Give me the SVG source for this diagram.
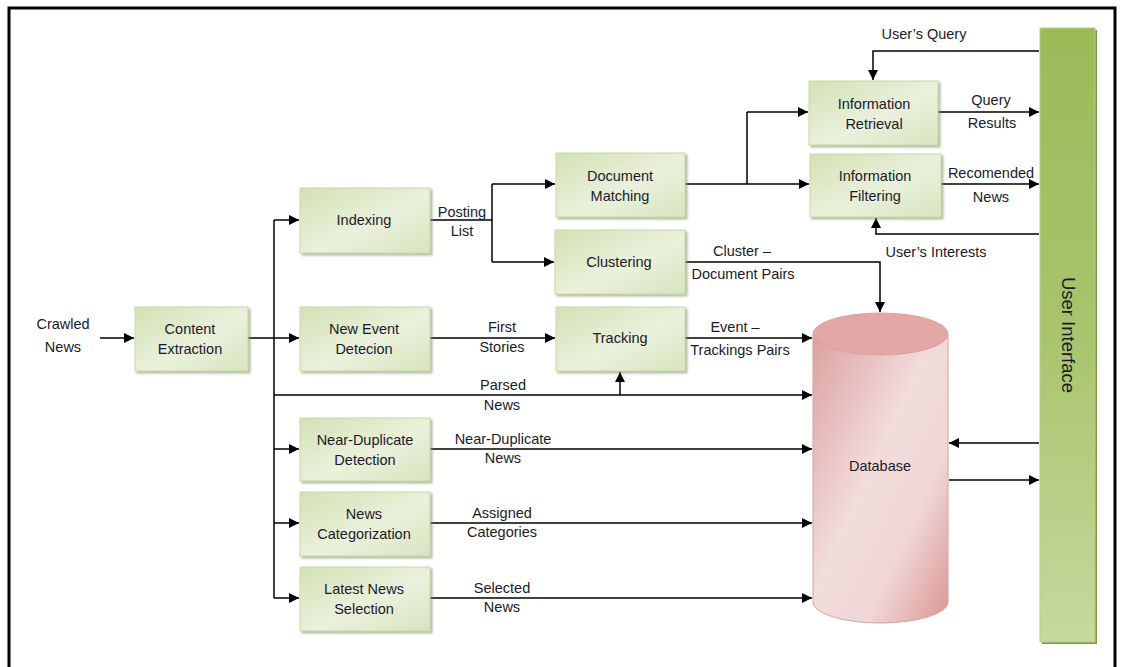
<svg xmlns="http://www.w3.org/2000/svg" width="1122" height="667" viewBox="0 0 1122 667">
<defs>
<linearGradient id="gNode" x1="0" y1="0" x2="1" y2="1">
<stop offset="0" stop-color="#d3e1b4"/>
<stop offset="0.55" stop-color="#eaf1dc"/>
<stop offset="1" stop-color="#d7e4bf"/>
</linearGradient>
<linearGradient id="gUI" x1="0" y1="0" x2="0" y2="1">
<stop offset="0" stop-color="#9bbb59"/>
<stop offset="0.5" stop-color="#a9c46d"/>
<stop offset="1" stop-color="#c5d99e"/>
</linearGradient>
<linearGradient id="gDB" x1="0" y1="0" x2="1" y2="1">
<stop offset="0" stop-color="#dca0a0"/>
<stop offset="0.45" stop-color="#f2dcdc"/>
<stop offset="0.7" stop-color="#f0d6d6"/>
<stop offset="1" stop-color="#d99594"/>
</linearGradient>
<marker id="arr" viewBox="0 0 10 10" refX="10" refY="5" markerWidth="10" markerHeight="10" markerUnits="userSpaceOnUse" orient="auto">
<path d="M0,0 L10,5 L0,10 z" fill="#000"/>
</marker>
<filter id="sh" x="-10%" y="-10%" width="130%" height="130%">
<feDropShadow dx="2" dy="2" stdDeviation="1" flood-color="#7f8f60" flood-opacity="0.6"/>
</filter>
</defs>
<style>
text{font-family:"Liberation Sans",Arial,sans-serif;font-size:14.5px;fill:#1a1a2a;text-anchor:middle}
.node rect{fill:url(#gNode);stroke:#c9d8a8;stroke-width:1;filter:url(#sh)}
.conn path,.conn line{fill:none;stroke:#000;stroke-width:1.5}
.ar{marker-end:url(#arr)}
</style>
<rect x="0" y="0" width="1122" height="667" fill="#fff"/>
<path d="M9,667 V8 H1115 V667" fill="none" stroke="#000" stroke-width="3"/>

<g class="conn">
<path class="ar" d="M100,338 H134"/>
<path d="M248,338 H274"/>
<path d="M274,220 V598"/>
<path class="ar" d="M274,220 H299"/>
<path class="ar" d="M274,338 H299"/>
<path class="ar" d="M274,449 H299"/>
<path class="ar" d="M274,523 H299"/>
<path class="ar" d="M274,598 H299"/>
<path class="ar" d="M274,395 H812"/>
<path class="ar" d="M620,395 V372"/>
<path d="M430,220 H492"/>
<path d="M492,184 V262"/>
<path class="ar" d="M492,184 H555"/>
<path class="ar" d="M492,262 H554"/>
<path d="M685,184 H747 V112"/>
<path class="ar" d="M747,112 H808"/>
<path class="ar" d="M747,184 H809"/>
<path class="ar" d="M938,112 H1039"/>
<path class="ar" d="M941,184 H1039"/>
<path class="ar" d="M1039,51 H873 V80"/>
<path class="ar" d="M1039,234 H876 V218"/>
<path class="ar" d="M685,262 H880 V312"/>
<path class="ar" d="M685,338 H812"/>
<path class="ar" d="M430,338 H555"/>
<path class="ar" d="M430,449 H812"/>
<path class="ar" d="M430,523 H812"/>
<path class="ar" d="M430,598 H812"/>
<path class="ar" d="M1039,443 H949"/>
<path class="ar" d="M949,480 H1039"/>
</g>

<g id="crawled-news">
<text x="63" y="329">Crawled</text>
<text x="63" y="352">News</text>
</g>

<g id="content-extraction" class="node"><rect x="135" y="307" width="113" height="64"/><text x="190" y="334">Content</text><text x="190" y="354">Extraction</text></g>
<g id="indexing" class="node"><rect x="300" y="188" width="130" height="65"/><text x="364" y="225">Indexing</text></g>
<g id="new-event" class="node"><rect x="300" y="307" width="130" height="64"/><text x="364" y="334">New Event</text><text x="364" y="354">Detecion</text></g>
<g id="near-duplicate" class="node"><rect x="300" y="418" width="130" height="63"/><text x="365" y="445">Near-Duplicate</text><text x="365" y="465">Detection</text></g>
<g id="news-categorization" class="node"><rect x="300" y="492" width="130" height="64"/><text x="364" y="519">News</text><text x="364" y="539">Categorization</text></g>
<g id="latest-news" class="node"><rect x="300" y="567" width="130" height="64"/><text x="364" y="594">Latest News</text><text x="364" y="614">Selection</text></g>
<g id="document-matching" class="node"><rect x="556" y="153" width="129" height="64"/><text x="620" y="181">Document</text><text x="620" y="201">Matching</text></g>
<g id="clustering" class="node"><rect x="555" y="230" width="130" height="64"/><text x="619" y="267">Clustering</text></g>
<g id="tracking" class="node"><rect x="556" y="307" width="129" height="64"/><text x="620" y="343">Tracking</text></g>
<g id="information-retrieval" class="node"><rect x="809" y="81" width="129" height="64"/><text x="874" y="109">Information</text><text x="874" y="129">Retrieval</text></g>
<g id="information-filtering" class="node"><rect x="810" y="154" width="131" height="63"/><text x="875" y="181">Information</text><text x="875" y="201">Filtering</text></g>

<g id="database">
<path d="M813,334 V602 A67.5,21 0 0 0 948,602 V334 Z" fill="url(#gDB)" stroke="#d9a0a0" stroke-width="1"/>
<ellipse cx="880.5" cy="334" rx="67.5" ry="21" fill="#e3a7a6" stroke="#d9a0a0" stroke-width="1"/>
<text x="880" y="471">Database</text>
</g>

<g id="user-interface">
<rect x="1042" y="30" width="55" height="614" fill="#7f9a46"/>
<rect x="1040" y="28" width="55" height="614" fill="url(#gUI)" stroke="#b7cf8a" stroke-width="1"/>
<text x="1068" y="335" transform="rotate(90 1068 335)" dy="6" style="font-size:18.5px">User Interface</text>
</g>

<g id="labels">
<text x="462" y="217">Posting</text><text x="462" y="236">List</text>
<text x="502" y="332">First</text><text x="502" y="352">Stories</text>
<text x="503" y="390">Parsed</text><text x="502" y="410">News</text>
<text x="503" y="444">Near-Duplicate</text><text x="503" y="463">News</text>
<text x="502" y="518">Assigned</text><text x="502" y="537">Categories</text>
<text x="502" y="593">Selected</text><text x="502" y="612">News</text>
<text x="742" y="256">Cluster –</text><text x="743" y="279">Document Pairs</text>
<text x="735" y="332">Event –</text><text x="740" y="355">Trackings Pairs</text>
<text x="991" y="105">Query</text><text x="992" y="128">Results</text>
<text x="991" y="178">Recomended</text><text x="991" y="202">News</text>
<text x="924" y="39">User’s Query</text>
<text x="936" y="257">User’s Interests</text>
</g>
</svg>
